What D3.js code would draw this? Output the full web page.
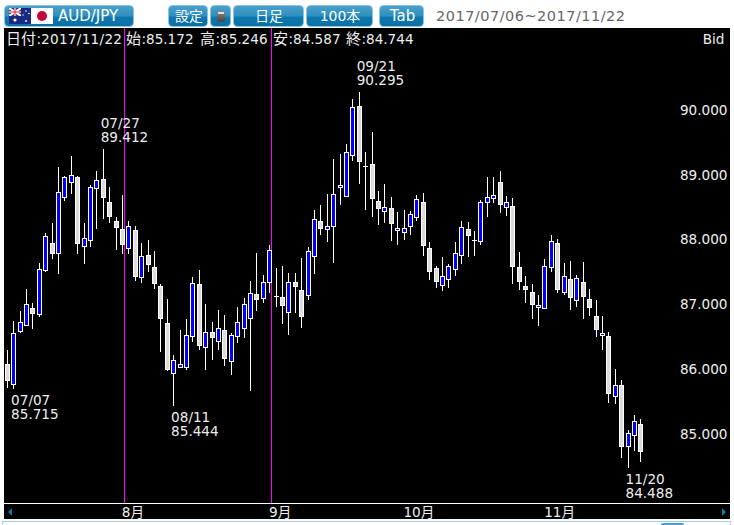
<!DOCTYPE html>
<html><head><meta charset="utf-8">
<script src="https://cdn.jsdelivr.net/npm/d3@7"></script>
<style>html,body{margin:0;padding:0;background:#fff;overflow:hidden}svg{display:block}
text{font-family:"DejaVu Sans","Noto Sans CJK JP",sans-serif}</style>
</head><body><svg id="c" width="734" height="525"></svg>
<script>
const opens=[86.095,85.779,86.588,86.690,86.964,86.860,87.540,87.963,87.803,88.667,88.899,88.982,87.902,88.003,88.806,88.952,88.596,88.303,88.180,87.870,
88.164,87.422,87.778,87.593,87.299,86.727,85.940,86.042,86.042,86.521,87.330,86.351,86.588,86.443,86.619,86.135,86.521,86.644,86.798,87.175,
87.107,87.354,87.145,87.129,86.882,87.360,87.237,87.154,87.756,88.303,88.173,88.210,88.822,88.683,89.316,90.079,89.157,89.183,88.612,88.451,
88.504,88.158,88.118,88.219,88.358,88.596,87.886,87.577,87.308,87.391,87.546,87.762,88.180,88.019,87.978,88.581,88.642,88.905,88.504,88.535,
87.593,87.299,87.206,86.959,86.944,87.577,87.963,87.191,87.407,87.067,87.360,87.098,86.836,86.527,86.527,85.585,85.770,84.812,84.982,85.172];
const highs=[86.315,86.767,86.922,87.253,87.036,87.654,88.127,88.272,89.137,89.007,89.307,89.007,88.272,88.859,89.075,89.412,88.828,88.365,88.704,88.303,
88.226,87.963,88.009,87.840,87.330,87.098,86.233,86.619,86.789,87.447,87.546,87.021,86.742,86.928,86.851,86.573,86.975,87.113,87.376,87.809,
87.469,87.937,87.577,87.608,87.500,87.500,87.731,87.902,88.473,88.550,88.720,89.260,89.338,89.492,90.187,90.295,89.369,89.677,88.766,88.874,
88.674,88.442,88.473,88.457,88.704,88.735,87.978,87.608,87.756,87.639,87.978,88.303,88.288,88.149,88.627,88.982,88.982,89.075,88.689,88.658,
87.824,87.453,87.330,87.160,87.716,88.087,88.025,87.654,87.685,87.469,87.670,87.253,87.082,86.836,86.588,86.017,85.847,85.075,85.306,85.246];
const lows=[85.724,85.715,86.573,86.686,86.635,86.820,87.515,87.725,87.494,88.621,88.720,87.803,87.639,87.911,88.180,88.334,88.272,87.855,87.793,87.793,
87.376,87.345,87.515,87.253,86.280,85.991,85.444,86.037,86.011,86.443,86.320,86.001,86.165,86.320,86.073,85.934,86.428,86.505,85.687,86.925,
87.036,87.201,86.984,86.721,86.552,86.882,86.660,87.092,87.484,88.087,87.988,87.664,88.550,88.683,89.229,88.884,88.473,88.365,88.238,88.281,
88.003,87.941,88.019,88.096,88.312,87.772,87.401,87.277,87.231,87.277,87.463,87.648,87.756,87.772,87.941,88.374,88.590,88.426,88.377,87.330,
87.237,87.036,86.789,86.681,86.944,87.515,87.191,87.170,86.928,86.975,86.789,86.836,86.511,86.310,85.492,85.477,84.642,84.488,84.751,84.587];
const closes=[85.841,86.573,86.742,87.021,86.871,87.562,88.071,87.803,88.751,88.982,89.013,87.957,88.040,88.828,88.936,88.667,88.374,88.204,87.942,88.226,
87.438,87.762,87.623,87.330,86.789,86.001,86.156,86.104,86.542,87.345,86.382,86.588,86.505,86.650,86.181,86.542,86.742,87.021,87.191,87.092,
87.360,87.855,87.144,86.999,87.360,87.292,86.830,87.840,88.334,88.189,88.226,88.720,88.859,89.369,90.063,89.223,89.157,88.652,88.497,88.519,
88.257,88.195,88.195,88.411,88.642,87.926,87.524,87.370,87.453,87.608,87.809,88.210,88.081,88.019,88.596,88.674,88.704,88.550,88.596,87.602,
87.360,87.247,87.015,87.005,87.608,87.994,87.237,87.453,87.113,87.422,87.129,86.959,86.619,86.573,85.631,85.770,84.812,85.029,85.214,84.744];
const priceTicks=[85,86,87,88,89,90];
const monthLabels=["8月","9月","10月","11月"];
const monthIdx=[18,41,62,84];
const lineIdx=[18,41];
const callouts=[
 {i:1,d:"07/07",v:"85.715",below:true},
 {i:15,d:"07/27",v:"89.412",below:false},
 {i:26,d:"08/11",v:"85.444",below:true},
 {i:55,d:"09/21",v:"90.295",below:false},
 {i:97,d:"11/20",v:"84.488",below:true}];
const infoLabels=["日付","始","高","安","終"];
const infoValues=["2017/11/22","85.172","85.246","84.587","84.744"];
const rangeText="2017/07/06~2017/11/22";
const buttons=[["",4,134],["設定",168,208],["",210,231],["日足",233,304],["100本",306,373],["Tab",379,424]];

const svg=d3.select("#c");
const defs=svg.append("defs");
const g=defs.append("linearGradient").attr("id","btn").attr("x1",0).attr("y1",0).attr("x2",0).attr("y2",1);
[[0,"#4aa0cc"],[.5,"#2f8fbd"],[.55,"#0e78ac"],[1,"#0a70a6"]].forEach(s=>g.append("stop").attr("offset",s[0]).attr("stop-color",s[1]));
const gi=defs.append("linearGradient").attr("id","icon").attr("x1",0).attr("y1",0).attr("x2",0).attr("y2",1);
[[0,"#888"],[1,"#444"]].forEach(s=>gi.append("stop").attr("offset",s[0]).attr("stop-color",s[1]));
const cl=defs.append("clipPath").attr("id","au");cl.append("rect").attr("x",9).attr("y",8).attr("width",12).attr("height",8);

const x=d3.scaleLinear().domain([0,99]).range([7.3,640.9]);
const y=d3.scaleLinear().domain([84,91]).range([499.9,46.65]);

// top bar
svg.append("rect").attr("width",734).attr("height",525).attr("fill","#fff");
buttons.forEach(b=>{svg.append("rect").attr("x",b[1]+.5).attr("y",5.5).attr("width",b[2]-b[1]-1).attr("height",21)
 .attr("rx",4).attr("fill","url(#btn)").attr("stroke","#8cc4e0").attr("stroke-width",1);});
const lab=[["設定",189,14],["日足",269,14],["100本",340,14],["Tab",402.5,15]];
lab.forEach(l=>svg.append("text").attr("x",l[1]).attr("y",21).attr("text-anchor","middle").attr("fill","#fff").attr("font-size",l[2]).text(l[0]));
svg.append("text").attr("x",58).attr("y",21).attr("fill","#fff").attr("font-size",15).text("AUD/JPY");
svg.append("rect").attr("x",217).attr("y",11).attr("width",8).attr("height",11).attr("rx",1.5).attr("fill","url(#icon)");
svg.append("rect").attr("x",218).attr("y",12).attr("width",6).attr("height",2).attr("fill","#ddd");
// flags
svg.append("rect").attr("x",9).attr("y",8).attr("width",22).attr("height",16).attr("fill","#1a2a80");
const u=svg.append("g").attr("clip-path","url(#au)");
u.append("rect").attr("x",9).attr("y",8).attr("width",12).attr("height",8).attr("fill","#2a3a8a");
[[9,8,21,16],[21,8,9,16]].forEach(l=>u.append("line").attr("x1",l[0]).attr("y1",l[1]).attr("x2",l[2]).attr("y2",l[3]).attr("stroke","#fff").attr("stroke-width",2));
u.append("rect").attr("x",9).attr("y",11).attr("width",12).attr("height",2).attr("fill","#fff");
u.append("rect").attr("x",14).attr("y",8).attr("width",2).attr("height",8).attr("fill","#fff");
u.append("rect").attr("x",9).attr("y",11.5).attr("width",12).attr("height",1).attr("fill","#d02030");
u.append("rect").attr("x",14.5).attr("y",8).attr("width",1).attr("height",8).attr("fill","#d02030");
[[15,20,1.6],[26,11,.8],[29,13.5,.8],[23,15,.7],[26,21,.9]].forEach(s=>svg.append("circle").attr("cx",s[0]).attr("cy",s[1]).attr("r",s[2]).attr("fill","#fff"));
svg.append("rect").attr("x",31).attr("y",8).attr("width",22).attr("height",16).attr("fill","#fff");
svg.append("circle").attr("cx",42).attr("cy",16).attr("r",5).attr("fill","#c4063a");
svg.append("text").attr("x",436).attr("y",21).attr("fill","#666").attr("font-size",14.5)
 .attr("textLength",189).attr("lengthAdjust","spacing").text(rangeText);

// chart panel
svg.append("rect").attr("x",4).attr("y",28).attr("width",726).attr("height",491).attr("fill","#000");
svg.append("line").attr("x1",4).attr("x2",730).attr("y1",503.5).attr("y2",503.5).attr("stroke","#fff");
svg.append("rect").attr("x",2.5).attr("y",521.5).attr("width",728).attr("height",6).attr("fill","#fff").attr("stroke","#a8cde0");
svg.append("rect").attr("x",661).attr("y",523).attr("width",23).attr("height",4).attr("rx",2).attr("fill","#4aa0cc");
svg.append("path").attr("d","M12 508L12 516L8 512Z").attr("fill","#0a78b4");
svg.append("path").attr("d","M722 508L722 516L726 512Z").attr("fill","#0a78b4");

// month lines
svg.selectAll(".ml").data(lineIdx).join("line").attr("class","ml")
 .attr("x1",d=>Math.floor(x(d)+1.8)+.5).attr("x2",d=>Math.floor(x(d)+1.8)+.5)
 .attr("y1",28).attr("y2",503).attr("stroke","#ff00ff").attr("stroke-width",1);

// candles
const data=d3.range(closes.length).map(i=>({i,o:opens[i],h:highs[i],l:lows[i],c:closes[i]}));
const col=d=>Math.floor(x(d.i))+.5;
const cg=svg.append("g");
cg.selectAll("line").data(data).join("line")
 .attr("x1",col).attr("x2",col).attr("y1",d=>Math.round(y(d.h))).attr("y2",d=>Math.round(y(d.l)))
 .attr("stroke","#fff").attr("stroke-width",1);
cg.selectAll("rect").data(data).join("rect")
 .attr("x",d=>col(d)-2).attr("width",4)
 .attr("y",d=>Math.round(y(Math.max(d.o,d.c)))+.5)
 .attr("height",d=>Math.max(0.001,Math.round(y(Math.min(d.o,d.c)))-Math.round(y(Math.max(d.o,d.c)))-1))
 .attr("fill",d=>d.c>d.o?"#0000ff":"#dcdcdc")
 .attr("stroke","#fff").attr("stroke-width",1);

// text
const tc="#eee",fs=13.6;
svg.selectAll(".pt").data(priceTicks).join("text").attr("class","pt")
 .attr("x",727.5).attr("y",d=>y(d)+3.5).attr("text-anchor","end").attr("fill",tc).attr("font-size",fs)
 .text(d=>d3.format(".3f")(d));
svg.append("text").attr("x",724.5).attr("y",44).attr("text-anchor","end").attr("fill",tc).attr("font-size",fs).text("Bid");
const infoX=[6,126,200,273,346];
infoLabels.forEach((l,k)=>{
 const w=l.length*15;
 svg.append("text").attr("x",infoX[k]).attr("y",44).attr("fill",tc).attr("font-size",15).text(l);
 svg.append("text").attr("x",infoX[k]+w+.5).attr("y",44).attr("fill",tc).attr("font-size",fs).text(":");
 const t=svg.append("text").attr("x",infoX[k]+w+5).attr("y",44).attr("fill",tc).attr("font-size",fs);
 if(k===0) t.attr("textLength",81).attr("lengthAdjust","spacing");
 t.text(infoValues[k]);
});
svg.selectAll(".mt").data(monthIdx).join("text").attr("class","mt")
 .attr("x",d=>x(d)-.7).attr("y",517).attr("fill",tc).attr("font-size",fs)
 .text((d,k)=>monthLabels[k]);
callouts.forEach(c=>{
 const px=x(c.i)-2.6;
 const base=c.below? y(lows[c.i])+16 : y(highs[c.i])-21;
 svg.append("text").attr("x",px).attr("y",base).attr("fill",tc).attr("font-size",fs).text(c.d);
 svg.append("text").attr("x",px).attr("y",base+14).attr("fill",tc).attr("font-size",fs).text(c.v);
});
</script></body></html>
